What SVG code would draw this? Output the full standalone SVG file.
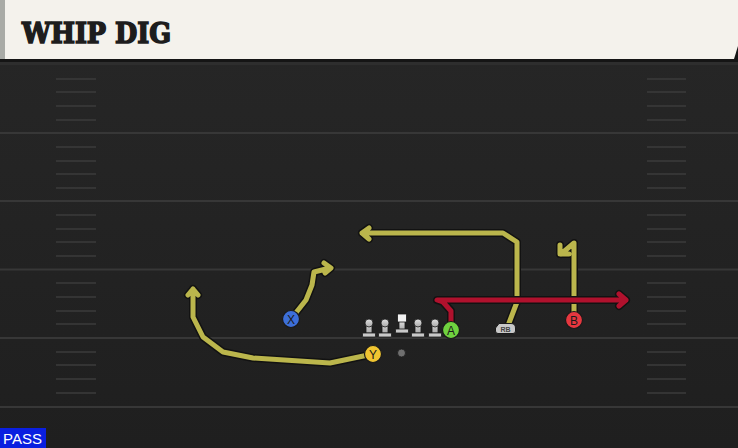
<svg xmlns="http://www.w3.org/2000/svg" width="738" height="448" viewBox="0 0 738 448">
<defs>
<linearGradient id="fieldg" x1="0" y1="0" x2="0" y2="1">
<stop offset="0" stop-color="#272727"/>
<stop offset="1" stop-color="#1f1f1f"/>
</linearGradient>
<linearGradient id="olg" x1="0" y1="0" x2="0" y2="1">
<stop offset="0" stop-color="#e2e2e2"/>
<stop offset="1" stop-color="#a9a9a9"/>
</linearGradient>
<g id="lineman">
<rect x="-3" y="-1" width="6" height="11" fill="url(#olg)" stroke="#1a1a1a" stroke-width="0.8"/>
<circle cx="0" cy="0" r="4" fill="url(#olg)" stroke="#1a1a1a" stroke-width="0.8"/>
<rect x="-6.5" y="10" width="13" height="4" rx="1" fill="#c9c9c9" stroke="#1a1a1a" stroke-width="0.8"/>
</g>
</defs>
<style>
.field-line{stroke:#373737;stroke-width:2}
.hash{stroke:#3b3b3b;stroke-width:1.6}
.out{fill:none;stroke:#121212;stroke-width:8;stroke-linejoin:round;stroke-linecap:round}
.yel{fill:none;stroke:#bbb64c;stroke-width:5;stroke-linejoin:round;stroke-linecap:round}
.red{fill:none;stroke:#b0112d;stroke-width:5;stroke-linejoin:round;stroke-linecap:round}
.player{stroke:#1a1a1a;stroke-width:1.2}
.plabel{font-family:"Liberation Sans",Arial,sans-serif;font-size:12px;fill:#1a1a1a;text-anchor:middle}
</style>
<rect x="0" y="0" width="738" height="448" fill="url(#fieldg)"/>
<rect x="0" y="0" width="738" height="62" fill="#151515"/>
<rect x="0" y="62" width="738" height="3" fill="#2e2e2e"/>
<g id="header">
<polygon points="0,0 738,0 738,46 734,59 0,59" fill="#f4f2ec"/>
<rect x="0" y="0" width="5" height="59" fill="#a9aba6"/>
<text x="22" y="43" font-family="DejaVu Serif, 'Liberation Serif', serif" font-weight="bold" font-size="28" fill="#1d1d1d" stroke="#1d1d1d" stroke-width="1.6" stroke-linejoin="miter" textLength="149" lengthAdjust="spacingAndGlyphs">WHIP DIG</text>
</g>
<g id="field">
<line class="field-line" x1="0" y1="133" x2="738" y2="133"/>
<line class="field-line" x1="0" y1="201" x2="738" y2="201"/>
<line class="field-line" x1="0" y1="269.5" x2="738" y2="269.5"/>
<line class="field-line" x1="0" y1="338" x2="738" y2="338"/>
<line class="field-line" x1="0" y1="407" x2="738" y2="407"/>
<g id="hashes-left">
<line class="hash" x1="56" y1="79" x2="96" y2="79"/>
<line class="hash" x1="56" y1="92" x2="96" y2="92"/>
<line class="hash" x1="56" y1="106" x2="96" y2="106"/>
<line class="hash" x1="56" y1="120" x2="96" y2="120"/>
<line class="hash" x1="56" y1="147" x2="96" y2="147"/>
<line class="hash" x1="56" y1="161" x2="96" y2="161"/>
<line class="hash" x1="56" y1="174" x2="96" y2="174"/>
<line class="hash" x1="56" y1="188" x2="96" y2="188"/>
<line class="hash" x1="56" y1="215" x2="96" y2="215"/>
<line class="hash" x1="56" y1="229" x2="96" y2="229"/>
<line class="hash" x1="56" y1="242" x2="96" y2="242"/>
<line class="hash" x1="56" y1="256" x2="96" y2="256"/>
<line class="hash" x1="56" y1="283" x2="96" y2="283"/>
<line class="hash" x1="56" y1="297" x2="96" y2="297"/>
<line class="hash" x1="56" y1="311" x2="96" y2="311"/>
<line class="hash" x1="56" y1="324" x2="96" y2="324"/>
<line class="hash" x1="56" y1="352" x2="96" y2="352"/>
<line class="hash" x1="56" y1="365" x2="96" y2="365"/>
<line class="hash" x1="56" y1="379" x2="96" y2="379"/>
<line class="hash" x1="56" y1="393" x2="96" y2="393"/>
</g>
<g id="hashes-right">
<line class="hash" x1="647" y1="79" x2="686" y2="79"/>
<line class="hash" x1="647" y1="92" x2="686" y2="92"/>
<line class="hash" x1="647" y1="106" x2="686" y2="106"/>
<line class="hash" x1="647" y1="120" x2="686" y2="120"/>
<line class="hash" x1="647" y1="147" x2="686" y2="147"/>
<line class="hash" x1="647" y1="161" x2="686" y2="161"/>
<line class="hash" x1="647" y1="174" x2="686" y2="174"/>
<line class="hash" x1="647" y1="188" x2="686" y2="188"/>
<line class="hash" x1="647" y1="215" x2="686" y2="215"/>
<line class="hash" x1="647" y1="229" x2="686" y2="229"/>
<line class="hash" x1="647" y1="242" x2="686" y2="242"/>
<line class="hash" x1="647" y1="256" x2="686" y2="256"/>
<line class="hash" x1="647" y1="283" x2="686" y2="283"/>
<line class="hash" x1="647" y1="297" x2="686" y2="297"/>
<line class="hash" x1="647" y1="311" x2="686" y2="311"/>
<line class="hash" x1="647" y1="324" x2="686" y2="324"/>
<line class="hash" x1="647" y1="352" x2="686" y2="352"/>
<line class="hash" x1="647" y1="365" x2="686" y2="365"/>
<line class="hash" x1="647" y1="379" x2="686" y2="379"/>
<line class="hash" x1="647" y1="393" x2="686" y2="393"/>
</g>
</g>
<g id="connectors">
<path class="out" d="M291,319 L306,300 L312,285 L314,272 L330,268 M324,263 L331,268 L325,273"/>
<path class="yel" d="M291,319 L306,300 L312,285 L314,272 L330,268 M324,263 L331,268 L325,273"/>
<path class="out" d="M373,354 L330,363 L253,358 L223,352 L203,337 L193,317 L193,289 M188,295 L193,289 L198,295"/>
<path class="yel" d="M373,354 L330,363 L253,358 L223,352 L203,337 L193,317 L193,289 M188,295 L193,289 L198,295"/>
<path class="out" d="M509,323 L517,302 L517,242 L503,233 L362,233 M369,228 L362,233 L369,239"/>
<path class="yel" d="M509,323 L517,302 L517,242 L503,233 L362,233 M369,228 L362,233 L369,239"/>
<path class="out" d="M574,320 L574,243 L561,254 M560,245 L560,254 L569,254"/>
<path class="yel" d="M574,320 L574,243 L561,254 M560,245 L560,254 L569,254"/>
<path class="out" d="M451,322 L451,311 L443,302 L437,300 L626,300 M619,294 L626,300 L619,306"/>
<path class="red" d="M451,322 L451,311 L443,302 L437,300 L626,300 M619,294 L626,300 L619,306"/>
</g>
<g id="ol">
<use href="#lineman" x="369" y="323"/>
<use href="#lineman" x="385" y="323"/>
<use href="#lineman" x="418" y="323"/>
<use href="#lineman" x="435" y="323"/>
<g id="center">
<rect x="399" y="321" width="6" height="9" fill="url(#olg)" stroke="#1a1a1a" stroke-width="0.8"/>
<rect x="397.5" y="314" width="9" height="8" fill="#f2f2f2" stroke="#1a1a1a" stroke-width="0.8"/>
<rect x="395.5" y="329" width="13" height="4" rx="1" fill="#c9c9c9" stroke="#1a1a1a" stroke-width="0.8"/>
</g>
</g>
<g id="ball"><circle cx="401.5" cy="353" r="4" fill="#6f6f6f" stroke="#1a1a1a" stroke-width="0.8"/></g>
<g id="rb">
<path d="M499,323.5 L511,323.5 Q515.5,323.5 515.5,328 L515.5,331 Q515.5,333.5 513,333.5 L498,333.5 Q495.5,333.5 495.5,331 L495.5,328 Z" fill="#c8c8c8" stroke="#1a1a1a" stroke-width="1"/>
<text x="505.5" y="331.5" font-family="'Liberation Sans',Arial,sans-serif" font-size="7" font-weight="bold" fill="#444" text-anchor="middle">RB</text>
</g>
<g id="X"><circle class="player" cx="291" cy="319" r="8.5" fill="#3d6fd8"/><text class="plabel" x="291" y="323.5">X</text></g>
<g id="Y"><circle class="player" cx="373" cy="354" r="8.5" fill="#f0c531"/><text class="plabel" x="373" y="358.5">Y</text></g>
<g id="A"><circle class="player" cx="451" cy="330" r="8.5" fill="#6fd23f"/><text class="plabel" x="451" y="334.5">A</text></g>
<g id="B"><circle class="player" cx="574" cy="320" r="8.5" fill="#e6373f"/><text class="plabel" x="574" y="324.5">B</text></g>
<g id="pass">
<rect x="0" y="428" width="46" height="20" fill="#0a1fe0"/>
<text x="3" y="444" font-family="'Liberation Sans',Arial,sans-serif" font-size="15" fill="#ffffff">PASS</text>
</g>
</svg>
